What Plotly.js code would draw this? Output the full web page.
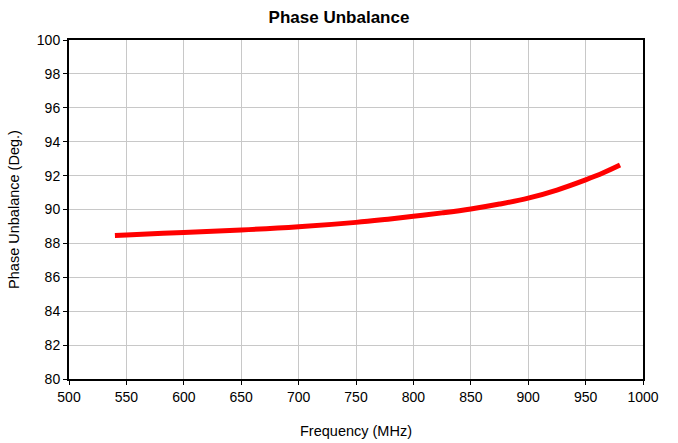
<!DOCTYPE html>
<html>
<head>
<meta charset="utf-8">
<script src="https://cdn.plot.ly/plotly-3.0.1.min.js"></script>
<style>html,body{margin:0;padding:0;background:#fff;}#chart{width:678px;height:443px;}</style>
</head>
<body>
<div id="chart"></div>
<script>
const freq = [540, 550, 600, 650, 700, 750, 775, 800, 825, 850, 875, 900, 925, 950, 965, 980];
const phase = [88.47, 88.5, 88.65, 88.79, 88.98, 89.24, 89.41, 89.6, 89.8, 90.03, 90.32, 90.67, 91.15, 91.75, 92.15, 92.62];

const trace = {
  x: freq, y: phase, type: 'scatter', mode: 'lines',
  line: {color: '#ff0000', width: 5, shape: 'spline'},
  hoverinfo: 'skip'
};
const tickFont = {family: 'Liberation Sans, Arial, sans-serif', size: 14, color: '#000'};
const titleFont = {family: 'Liberation Sans, Arial, sans-serif', size: 14.5, color: '#000'};
const layout = {
  width: 678, height: 443,
  margin: {l: 69, r: 35, t: 40, b: 64},
  paper_bgcolor: '#fff', plot_bgcolor: '#fff',
  showlegend: false,
  title: {text: '<b>Phase Unbalance</b>', x: 0.5, xanchor: 'center', y: 0.962, yanchor: 'middle',
          font: {family: 'Liberation Sans, Arial, sans-serif', size: 17, color: '#000'}},
  xaxis: {
    range: [500, 1000], dtick: 50, tick0: 500,
    showgrid: true, gridcolor: '#c8c8c8', gridwidth: 1,
    showline: true, linecolor: '#000', linewidth: 2, mirror: true,
    ticks: 'outside', ticklen: 4, tickcolor: '#000',
    tickfont: tickFont, zeroline: false,
    title: {text: 'Frequency (MHz)', font: titleFont, standoff: 22}
  },
  yaxis: {
    range: [80, 100], dtick: 2, tick0: 80,
    showgrid: true, gridcolor: '#c8c8c8', gridwidth: 1,
    showline: true, linecolor: '#000', linewidth: 2, mirror: true,
    ticks: 'outside', ticklen: 4, tickcolor: '#000',
    tickfont: tickFont, zeroline: false,
    title: {text: 'Phase Unbalance (Deg.)', font: titleFont, standoff: 14}
  }
};
Plotly.newPlot('chart', [trace], layout, {staticPlot: true, displayModeBar: false});
</script>
</body>
</html>
